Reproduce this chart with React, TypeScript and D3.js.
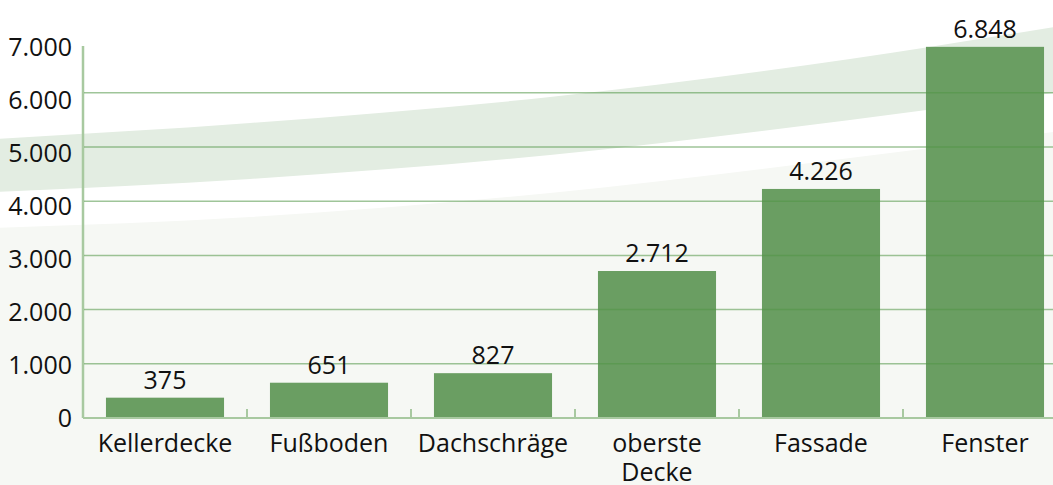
import * as d3 from "d3";

const W = 1053;
const H = 485;

const categories = ["Kellerdecke", "Fußboden", "Dachschräge", "oberste Decke", "Fassade", "Fenster"];
const categoryLines = [["Kellerdecke"], ["Fußboden"], ["Dachschräge"], ["oberste", "Decke"], ["Fassade"], ["Fenster"]];
const values = [375, 651, 827, 2712, 4226, 6848];
const yTicks = [0, 1000, 2000, 3000, 4000, 5000, 6000, 7000];
const gridTicks = [1000, 2000, 3000, 4000, 5000, 6000];

// decorative background swooshes (pixel space)
const swooshX = [-5, 250, 550, 850, 1060];
const bandTop = [139, 123, 97, 59, 26];
const bandBottom = [192, 179, 155, 120, 92];
const softTop = [228, 217, 193, 158, 131];

const de = d3.formatLocale({ decimal: ",", thousands: ".", grouping: [3], currency: ["", "€"] });
const fmt = de.format(",d");

const FONT = "'Open Sans', 'Noto Sans', sans-serif";

export default function App() {
    const axisX = 83;
    const baseY = 418;

    const x = d3
        .scaleBand<string>()
        .domain(categories)
        .range([axisX, axisX + 984])
        .paddingInner(0.28)
        .paddingOuter(0.14);

    const y = d3.scaleLinear().domain([0, 7000]).range([baseY, baseY - 7 * 54.2]);
    // tick labels sit slightly lower than their gridlines in the original
    const yLabel = d3.scaleLinear().domain([0, 7000]).range([427, 56]);

    const bandArea = d3
        .area<number>()
        .x((_, i) => swooshX[i])
        .y0((_, i) => bandTop[i])
        .y1((_, i) => bandBottom[i])
        .curve(d3.curveMonotoneX);

    const softArea = d3
        .area<number>()
        .x((_, i) => swooshX[i])
        .y0((_, i) => softTop[i])
        .y1(H + 5)
        .curve(d3.curveMonotoneX);

    return (
        <svg
            width={W}
            height={H}
            style={{ position: "absolute", left: 0, top: 0, display: "block" }}
            fontFamily={FONT}
        >
            <rect width={W} height={H} fill="#ffffff" />
            <path d={softArea(swooshX) || ""} fill="#f6f8f4" />
            <path d={bandArea(swooshX) || ""} fill="#e3ede2" />

            {/* y axis line */}
            <line x1={axisX} x2={axisX} y1={46} y2={baseY} stroke="#a8c9a0" strokeWidth={2.5} />

            {/* bars */}
            {categories.map((c, i) => (
                <rect
                    key={c}
                    x={x(c)}
                    y={y(values[i])}
                    width={x.bandwidth()}
                    height={baseY - y(values[i])}
                    fill="#6a9e62"
                />
            ))}

            {/* gridlines drawn above bars */}
            {gridTicks.map((t) => (
                <line
                    key={t}
                    x1={axisX + 1}
                    x2={W}
                    y1={y(t)}
                    y2={y(t)}
                    stroke="rgb(80,150,70)"
                    strokeOpacity={0.55}
                    strokeWidth={1.5}
                />
            ))}

            {/* baseline and category ticks */}
            <line x1={axisX} x2={W} y1={baseY} y2={baseY} stroke="#a8c9a0" strokeWidth={2} />
            {categories.slice(1).map((c, i) => {
                const bx = axisX + x.step() * (i + 1);
                return (
                    <line key={c} x1={bx} x2={bx} y1={baseY - 9} y2={baseY} stroke="#a8c9a0" strokeWidth={2} />
                );
            })}

            {/* y tick labels */}
            {yTicks.map((t) => (
                <text key={t} x={72} y={yLabel(t)} textAnchor="end" fontSize={25} fill="#111">
                    {fmt(t)}
                </text>
            ))}

            {/* value labels */}
            {categories.map((c, i) => (
                <text
                    key={c}
                    x={(x(c) || 0) + x.bandwidth() / 2}
                    y={y(values[i]) - 9}
                    textAnchor="middle"
                    fontSize={25}
                    fill="#111"
                >
                    {fmt(values[i])}
                </text>
            ))}

            {/* category labels */}
            {categories.map((c, i) => (
                <text
                    key={c}
                    x={(x(c) || 0) + x.bandwidth() / 2}
                    y={452}
                    textAnchor="middle"
                    fontSize={25}
                    fill="#111"
                >
                    {categoryLines[i].map((line, j) => (
                        <tspan key={line} x={(x(c) || 0) + x.bandwidth() / 2} dy={j === 0 ? 0 : 29}>
                            {line}
                        </tspan>
                    ))}
                </text>
            ))}
        </svg>
    );
}
